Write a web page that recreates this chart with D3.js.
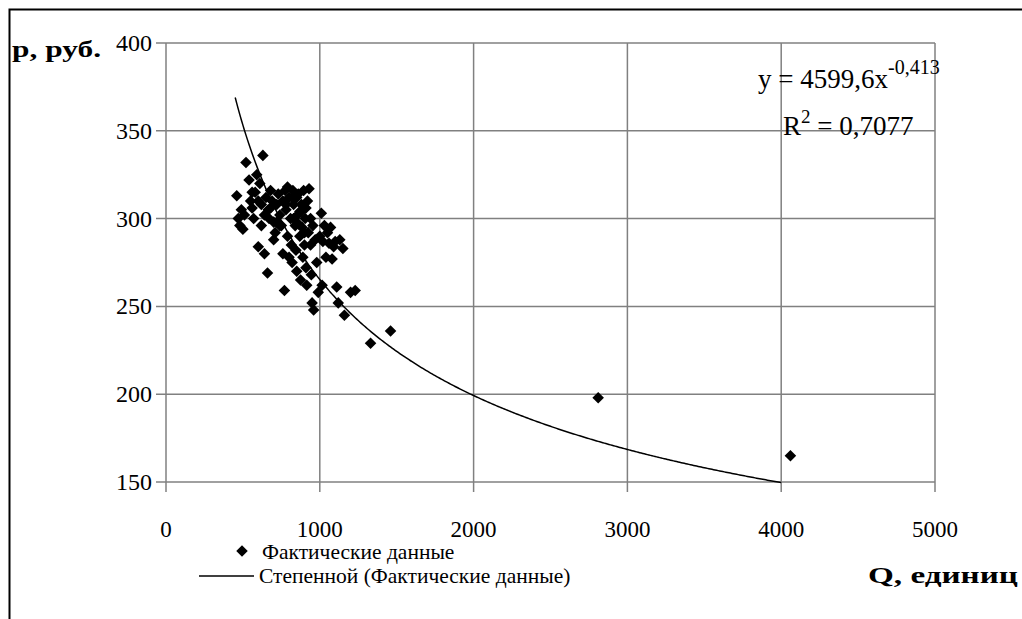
<!DOCTYPE html>
<html>
<head>
<meta charset="utf-8">
<script src="https://cdn.jsdelivr.net/npm/d3@7"></script>
<style>
  body { margin: 0; background: #fff; }
</style>
</head>
<body>
<div id="chart"></div>
<script>
// Q, p observations
var qValues = [460, 470, 480, 490, 500, 510, 520, 540, 550, 560, 570, 580, 590, 600, 610, 620, 630, 640, 650, 660,
  665, 670, 680, 690, 700, 700, 710, 720, 730, 740, 750, 760, 770, 775, 780, 790, 800, 800, 810, 815,
  820, 825, 830, 840, 845, 850, 855, 860, 870, 875, 880, 885, 890, 895, 900, 905, 910, 915, 920, 925,
  930, 940, 945, 950, 955, 960, 970, 980, 990, 1000, 1010, 1015, 1020, 1030, 1040, 1050, 1060, 1070, 1080, 1090,
  1100, 1110, 1120, 1130, 1150, 1160, 1200, 1230, 1330, 1460, 2810, 4060,
  600, 640, 680, 720, 760, 790, 830, 870, 900, 560, 620, 740, 850, 880, 910, 940, 860, 820, 780]
var pValues = [313, 300, 296, 305, 294, 302, 332, 322, 310, 306, 300, 315, 325, 284, 320, 296, 336, 280, 312, 269,
  305, 300, 316, 310, 298, 288, 292, 308, 314, 302, 296, 280, 259, 316, 305, 290, 278, 312, 300, 285,
  275, 316, 308, 296, 282, 270, 302, 314, 290, 265, 308, 295, 278, 316, 285, 300, 272, 262, 310, 292,
  317, 285, 268, 252, 296, 248, 288, 275, 258, 290, 303, 262, 287, 296, 278, 292, 286, 295, 277, 284,
  287, 261, 252, 288, 283, 245, 258, 259, 229, 236, 198, 165,
  310, 302, 306, 298, 310, 318, 300, 304, 292, 315, 308, 296, 312, 304, 306, 300, 297, 312, 308]
var xTicks = [0, 1000, 2000, 3000, 4000, 5000]
var yTicks = [150, 200, 250, 300, 350, 400]
var trendA = 4599.6
var trendB = -0.413
var trendRange = [450, 4000]

var svg = d3.select('#chart').append('svg')
  .attr('width', 1022)
  .attr('height', 619)
  .attr('font-family', '"Liberation Serif", "Times New Roman", serif')

// outer frame (runs past the right and bottom edges)
svg.append('rect')
  .attr('x', 9.5).attr('y', 9.5)
  .attr('width', 1100).attr('height', 700)
  .attr('fill', 'none').attr('stroke', '#000').attr('stroke-width', 2)

var x = d3.scaleLinear().domain([0, 5000]).range([166, 935])
var y = d3.scaleLinear().domain([150, 400]).range([482, 43])

var grid = svg.append('g').attr('stroke', '#808080').attr('stroke-width', 1.5)
grid.selectAll('.vl').data(xTicks).enter().append('line')
  .attr('x1', d => x(d)).attr('x2', d => x(d))
  .attr('y1', y(400)).attr('y2', y(150) + 10)
grid.selectAll('.hl').data(yTicks).enter().append('line')
  .attr('x1', x(0) - 10).attr('x2', x(5000))
  .attr('y1', d => y(d)).attr('y2', d => y(d))

svg.selectAll('.ytick').data(yTicks).enter().append('text')
  .attr('x', 152).attr('y', d => y(d) + 8)
  .attr('text-anchor', 'end')
  .attr('font-size', 24)
  .text(d => d)

svg.selectAll('.xtick').data(xTicks).enter().append('text')
  .attr('x', d => x(d)).attr('y', 537)
  .attr('text-anchor', 'middle')
  .attr('font-size', 23)
  .text(d => d)

// trend line
var trendPts = d3.range(trendRange[0], trendRange[1] + 1, 10).map(q => [q, trendA * Math.pow(q, trendB)])
var line = d3.line().x(d => x(d[0])).y(d => y(d[1]))
svg.append('path')
  .attr('d', line(trendPts))
  .attr('fill', 'none').attr('stroke', '#000').attr('stroke-width', 1.5)

// diamonds
var diamond = d3.symbol().type(d3.symbolDiamond2).size(85)
svg.append('g').selectAll('path').data(qValues).enter().append('path')
  .attr('d', diamond)
  .attr('transform', (d, i) => `translate(${x(d)},${y(pValues[i])})`)
  .attr('fill', '#000')

// equation
var eq = svg.append('text').attr('x', 758).attr('y', 88).attr('font-size', 27)
eq.append('tspan').text('y = 4599,6x')
eq.append('tspan').attr('dy', -14).attr('font-size', 20).text('-0,413')
var r2 = svg.append('text').attr('x', 783).attr('y', 135).attr('font-size', 27)
r2.append('tspan').text('R')
r2.append('tspan').attr('dy', -12).attr('font-size', 19).text('2')
r2.append('tspan').attr('dy', 12).text(' = 0,7077')

// axis titles
svg.append('text').attr('x', 12).attr('y', 57)
  .attr('font-size', 24).attr('font-weight', 'bold')
  .attr('textLength', 89).attr('lengthAdjust', 'spacingAndGlyphs')
  .text('p, руб.')
svg.append('text').attr('x', 868).attr('y', 583)
  .attr('font-size', 24).attr('font-weight', 'bold')
  .attr('textLength', 150).attr('lengthAdjust', 'spacingAndGlyphs')
  .text('Q, единиц')

// legend
svg.append('path').attr('d', diamond).attr('transform', 'translate(242,551)').attr('fill', '#000')
svg.append('text').attr('x', 262).attr('y', 559).attr('font-size', 21.5).text('Фактические данные')
svg.append('line').attr('x1', 199).attr('x2', 254).attr('y1', 576).attr('y2', 576)
  .attr('stroke', '#000').attr('stroke-width', 1.5)
svg.append('text').attr('x', 259).attr('y', 583).attr('font-size', 21.5).text('Степенной (Фактические данные)')
</script>
</body>
</html>
